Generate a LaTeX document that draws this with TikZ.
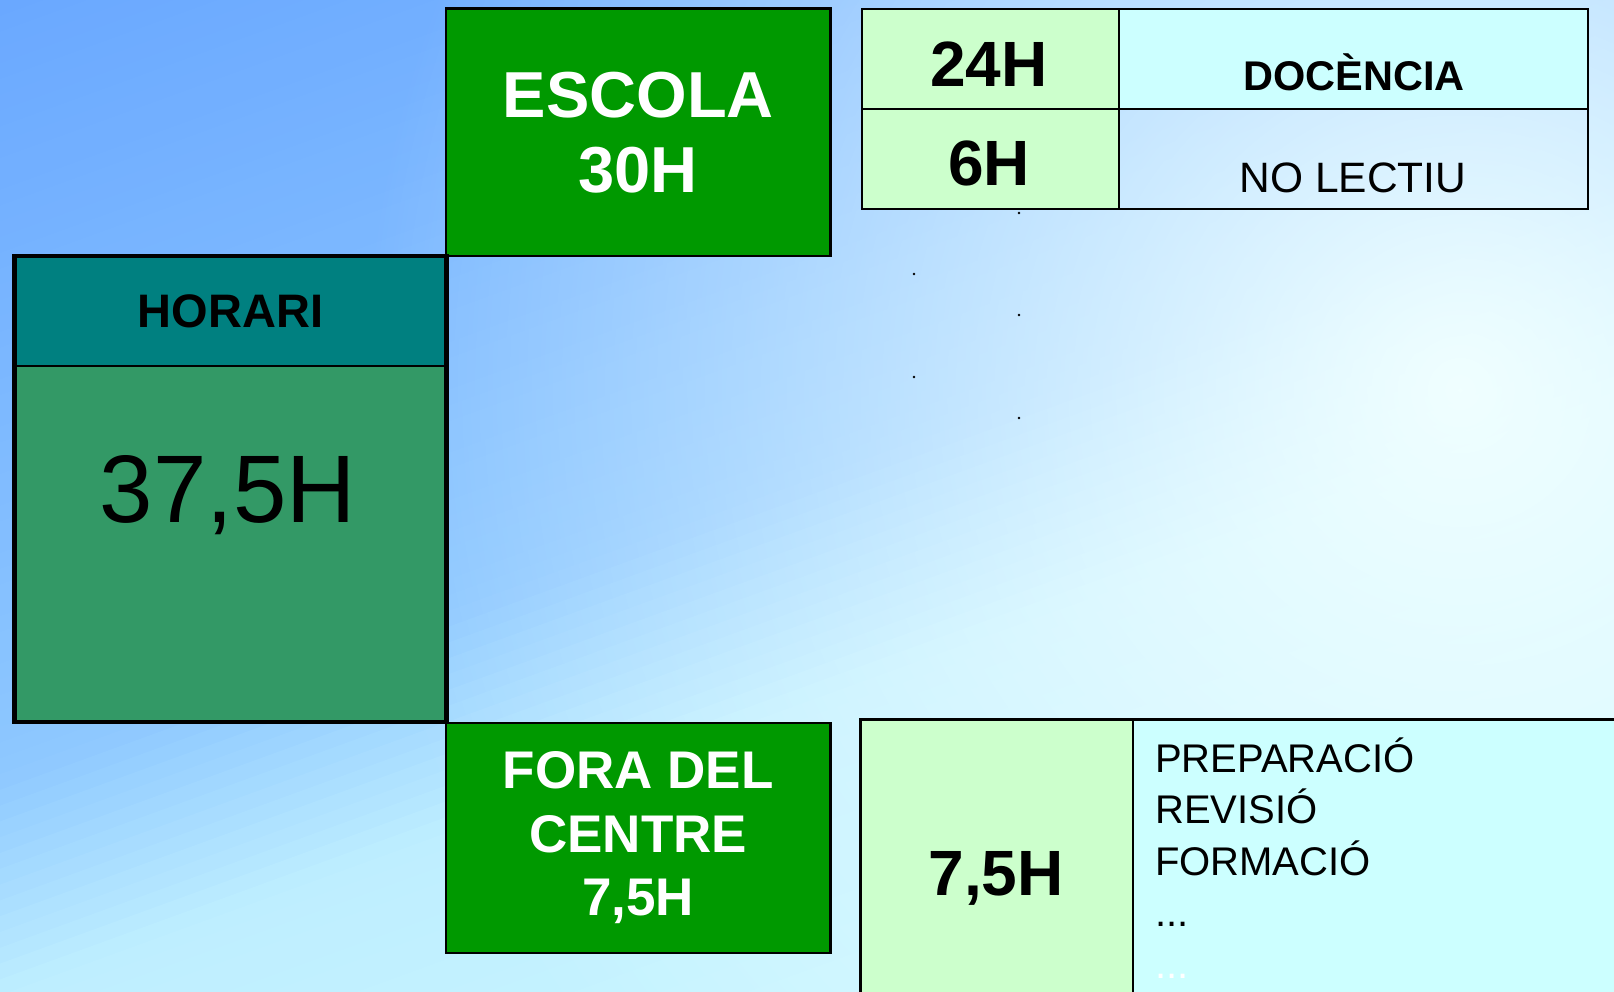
\documentclass[tikz,border=0pt]{standalone}
\usepackage{fontspec}
\setmainfont{Liberation Sans}
\usetikzlibrary{fadings}
\tikzfading[name=glowfade, inner color=transparent!0, outer color=transparent!100]
\definecolor{bgA}{RGB}{106,168,255}
\definecolor{bgB}{RGB}{142,200,255}
\definecolor{bgC}{RGB}{190,238,255}
\definecolor{bgD}{RGB}{206,250,255}
\definecolor{glowc}{RGB}{240,255,255}
\definecolor{escgreen}{RGB}{0,153,0}
\definecolor{tealhead}{RGB}{0,128,128}
\definecolor{seagreen}{RGB}{51,153,102}
\definecolor{palegreen}{RGB}{204,255,204}
\definecolor{palecyan}{RGB}{204,255,255}
\begin{document}
\begin{tikzpicture}[x=1pt,y=-1pt,
  cell/.style={draw=black, line width=2.5pt, inner sep=0pt, outer sep=0pt},
  bignum/.style={anchor=base, inner sep=0pt, font=\fontsize{64}{70}\selectfont\bfseries},
  listtxt/.style={anchor=base west, inner sep=0pt, font=\fontsize{40}{48}\selectfont},
  dotmark/.style={circle, fill=black, inner sep=0pt, minimum size=2.6pt}]
\clip (0,0) rectangle (1614,992);
% background gradient
\foreach \i in {0,...,99}{
  \pgfmathsetmacro\sA{\i*14.84}
  \pgfmathsetmacro\sB{\sA+16}
  \pgfmathsetmacro\myT{(\i+0.5)/100}
  \ifdim\myT pt<0.49pt
    \pgfmathsetmacro\pc{\myT/0.49*100}
    \colorlet{stripc}{bgB!\pc!bgA}
  \else\ifdim\myT pt<0.63pt
    \pgfmathsetmacro\pc{(\myT-0.49)/0.14*100}
    \colorlet{stripc}{bgC!\pc!bgB}
  \else
    \pgfmathsetmacro\pc{(\myT-0.63)/0.37*100}
    \colorlet{stripc}{bgD!\pc!bgC}
  \fi\fi
  \fill[stripc] ({\sA*0.342-400*0.940},{\sA*0.940+400*0.342}) -- ({\sA*0.342+1600*0.940},{\sA*0.940-1600*0.342}) -- ({\sB*0.342+1600*0.940},{\sB*0.940-1600*0.342}) -- ({\sB*0.342-400*0.940},{\sB*0.940+400*0.342}) -- cycle;
}
\fill[glowc, path fading=glowfade] (1460,390) circle (1100);

% ESCOLA and FORA DEL CENTRE
\node[cell, fill=escgreen, minimum width=384.5pt, minimum height=247.5pt, text=white, align=center,
  font=\fontsize{65}{75}\selectfont\bfseries] (escola) at (638.25,132.25) {ESCOLA\\30H};
\node[cell, fill=escgreen, minimum width=384.5pt, minimum height=230pt, text=white, align=center,
  font=\fontsize{53}{63.5}\selectfont\bfseries] (fora) at (638.25,838) {FORA DEL\\CENTRE\\7,5H};

% HORARI
\node[cell, line width=2pt, fill=tealhead, minimum width=432pt, minimum height=110pt,
  font=\fontsize{47}{56}\selectfont\bfseries] (hhead) at (230.5,311) {HORARI};
\node[cell, line width=2pt, fill=seagreen, minimum width=432pt, minimum height=356pt] (hbody) at (230.5,544) {};
\node[anchor=base, inner sep=0pt, font=\fontsize{96}{110}\selectfont] (total) at (228,522) {37,5H};
\draw[line width=4.5pt] (hhead.north west) rectangle (hbody.south east);

% top table
\node[cell, fill=palegreen, minimum width=257pt, minimum height=100pt] (c24) at (990.5,59) {};
\node[cell, fill=palecyan, minimum width=469pt, minimum height=100pt] (cdoc) at (1353.5,59) {};
\node[cell, fill=palegreen, minimum width=257pt, minimum height=100pt] (c6) at (990.5,159) {};
\node[cell, minimum width=469pt, minimum height=100pt] (cnl) at (1353.5,159) {};
\node[bignum] (t24) at (989,86.7) {24H};
\node[bignum] (t6) at (989,186) {6H};
\node[anchor=base, inner sep=0pt, font=\fontsize{41.5}{48}\selectfont\bfseries] (tdoc) at (1354,90.6) {DOCÈNCIA};
\node[anchor=base, inner sep=0pt, font=\fontsize{42.5}{48}\selectfont] (tnl) at (1353,192.5) {NO LECTIU};

% bottom table
\node[cell, fill=palegreen, minimum width=272.5pt, minimum height=330.5pt] (c75) at (996.75,884.75) {};
\node[cell, fill=palecyan, minimum width=517pt, minimum height=330.5pt] (clist) at (1391.5,884.75) {};
\node[bignum] (t75) at (996,895) {7,5H};
\node[listtxt] (l1) at (1155,772) {PREPARACIÓ};
\node[listtxt] (l2) at (1155,823) {REVISIÓ};
\node[listtxt] (l3) at (1155,875) {FORMACIÓ};
\node[listtxt] (l4) at (1155,926) {...};
\node[listtxt, text=white] (l5) at (1155,978) {...};

% small dots
\node[dotmark] (d1) at (1019,213) {};
\node[dotmark] (d2) at (914,274) {};
\node[dotmark] (d3) at (1019,315) {};
\node[dotmark] (d4) at (914,377) {};
\node[dotmark] (d5) at (1019,418) {};
\end{tikzpicture}
\end{document}
